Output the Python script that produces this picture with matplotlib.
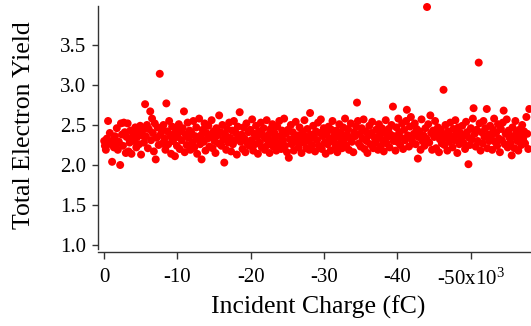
import matplotlib
matplotlib.use("Agg")
import matplotlib.pyplot as plt

# Incident charge (in units of 10^3 fC) and total electron yield
charge_k = [
    -0.02,-0.12,-0.25,-0.38,-0.55,-0.66,-0.79,-0.93,-1.10,-1.22,
    -1.35,-1.49,-1.61,-1.74,-1.88,-2.02,-2.20,-2.31,-2.45,-2.58,
    -2.70,-2.83,-2.97,-3.08,-3.22,-3.35,-3.49,-3.60,-3.74,-3.88,
    -3.99,-4.13,-4.26,-4.40,-4.52,-4.66,-4.79,-4.93,-5.05,-5.18,
    -5.31,-5.44,-5.60,-5.71,-5.85,-5.98,-6.10,-6.30,-6.41,-6.55,
    -6.66,-6.79,-6.92,-7.05,-7.18,-7.30,-7.45,-7.60,-7.72,-7.85,
    -7.98,-8.10,-8.24,-8.37,-8.50,-8.63,-8.76,-8.88,-9.02,-9.15,
    -9.28,-9.40,-9.55,-9.67,-9.80,-9.94,-10.06,-10.20,-10.33,-10.45,
    -10.60,-10.72,-10.90,-11.00,-11.13,-11.27,-11.40,-11.52,-11.66,-11.79,
    -11.92,-12.05,-12.18,-12.31,-12.44,-12.58,-12.70,-12.84,-12.97,-13.10,
    -13.22,-13.30,-13.45,-13.58,-13.71,-13.84,-13.97,-14.10,-14.23,-14.38,
    -14.55,-14.67,-14.80,-14.94,-15.06,-15.20,-15.33,-15.46,-15.60,-15.70,
    -15.88,-16.01,-16.14,-16.27,-16.40,-16.53,-16.66,-16.80,-16.92,-17.06,
    -17.19,-17.32,-17.46,-17.58,-17.71,-17.85,-17.98,-18.11,-18.24,-18.37,
    -18.50,-18.63,-18.76,-18.89,-19.02,-19.15,-19.28,-19.42,-19.55,-19.68,
    -19.81,-19.94,-20.08,-20.20,-20.34,-20.47,-20.60,-20.73,-20.86,-20.99,
    -21.13,-21.26,-21.39,-21.52,-21.65,-21.78,-21.92,-22.05,-22.18,-22.31,
    -22.45,-22.58,-22.71,-22.84,-22.97,-23.10,-23.24,-23.37,-23.50,-23.63,
    -23.77,-23.90,-24.03,-24.16,-24.29,-24.42,-24.56,-24.69,-24.82,-24.95,
    -25.09,-25.20,-25.35,-25.48,-25.61,-25.74,-25.88,-26.01,-26.14,-26.27,
    -26.41,-26.54,-26.67,-26.80,-26.93,-27.06,-27.20,-27.33,-27.46,-27.59,
    -27.73,-27.86,-27.99,-28.10,-28.25,-28.38,-28.52,-28.65,-28.78,-28.91,
    -29.05,-29.18,-29.31,-29.44,-29.57,-29.70,-29.84,-29.97,-30.10,-30.23,
    -30.37,-30.50,-30.63,-30.76,-30.89,-31.02,-31.16,-31.29,-31.42,-31.55,
    -31.69,-31.82,-31.95,-32.08,-32.21,-32.34,-32.48,-32.61,-32.74,-32.87,
    -33.01,-33.14,-33.27,-33.40,-33.53,-33.66,-33.80,-34.00,-34.12,-34.25,
    -34.38,-34.50,-34.62,-34.75,-34.88,-35.01,-35.14,-35.27,-35.40,-35.53,
    -35.66,-35.79,-35.92,-36.05,-36.18,-36.31,-36.44,-36.57,-36.70,-36.83,
    -36.97,-37.10,-37.23,-37.36,-37.49,-37.62,-37.76,-37.89,-38.02,-38.15,
    -38.29,-38.42,-38.55,-38.68,-38.81,-38.94,-39.08,-39.21,-39.40,-39.50,
    -39.62,-39.75,-39.88,-40.01,-40.14,-40.27,-40.40,-40.53,-40.66,-40.79,
    -40.93,-41.06,-41.19,-41.30,-41.45,-41.58,-41.72,-41.85,-41.98,-42.11,
    -42.25,-42.38,-42.51,-42.64,-42.80,-42.90,-43.04,-43.17,-43.30,-43.43,
    -43.57,-43.70,-43.83,-43.96,-44.05,-44.22,-44.35,-44.50,-44.61,-44.74,
    -44.89,-45.02,-45.15,-45.28,-45.41,-45.54,-45.68,-45.81,-45.94,-46.07,
    -46.18,-46.30,-46.43,-46.56,-46.69,-46.82,-46.96,-47.09,-47.22,-47.35,
    -47.53,-47.66,-47.79,-47.92,-48.05,-48.18,-48.32,-48.45,-48.58,-48.71,
    -48.85,-48.98,-49.11,-49.24,-49.37,-49.50,-49.70,-49.77,-49.90,-50.03,
    -50.17,-50.30,-50.40,-50.56,-50.69,-50.82,-50.96,-51.10,-51.22,-51.35,
    -51.49,-51.62,-51.75,-51.88,-52.01,-52.20,-52.27,-52.40,-52.53,-52.66,
    -52.81,-52.94,-53.07,-53.20,-53.33,-53.46,-53.60,-53.73,-53.86,-53.99,
    -54.13,-54.26,-54.39,-54.50,-54.65,-54.78,-54.92,-55.05,-55.18,-55.31,
    -55.45,-55.60,-55.71,-55.84,-55.97,-56.10,-56.24,-56.37,-56.50,-56.63,
    -56.77,-56.90,-57.03,-57.16,-57.29,-57.42,-57.60,-57.72,-57.86,-58.00,
]

electron_yield = [
    2.30,2.24,2.19,2.33,2.55,2.28,2.40,2.26,2.04,2.31,
    2.22,2.36,2.27,2.46,2.19,2.29,2.00,2.52,2.38,2.24,
    2.53,2.41,2.15,2.35,2.52,2.17,2.28,2.43,2.14,2.33,
    2.39,2.30,2.47,2.22,2.35,2.41,2.26,2.49,2.13,2.37,
    2.44,2.28,2.76,2.36,2.50,2.21,2.45,2.67,2.31,2.58,
    2.40,2.17,2.52,2.07,2.34,2.47,2.25,3.14,2.38,2.44,
    2.27,2.50,2.33,2.19,2.77,2.42,2.26,2.55,2.36,2.14,
    2.48,2.30,2.39,2.11,2.45,2.24,2.35,2.51,2.20,2.42,
    2.31,2.46,2.67,2.16,2.38,2.25,2.53,2.34,2.43,2.19,
    2.40,2.28,2.55,2.22,2.36,2.47,2.14,2.32,2.58,2.26,
    2.37,2.07,2.44,2.29,2.52,2.18,2.40,2.33,2.49,2.23,
    2.35,2.56,2.21,2.42,2.30,2.15,2.46,2.37,2.27,2.62,
    2.41,2.24,2.50,2.32,2.03,2.38,2.19,2.45,2.28,2.53,
    2.34,2.17,2.43,2.26,2.55,2.31,2.40,2.13,2.48,2.36,
    2.66,2.29,2.38,2.20,2.47,2.33,2.16,2.52,2.27,2.41,
    2.24,2.44,2.31,2.57,2.18,2.39,2.26,2.49,2.35,2.14,
    2.42,2.28,2.53,2.22,2.37,2.46,2.19,2.33,2.56,2.25,
    2.38,2.15,2.45,2.30,2.51,2.23,2.40,2.34,2.18,2.48,
    2.27,2.55,2.36,2.20,2.43,2.31,2.58,2.24,2.39,2.16,
    2.44,2.09,2.32,2.50,2.26,2.41,2.18,2.35,2.54,2.29,
    2.37,2.22,2.47,2.33,2.15,2.42,2.28,2.56,2.36,2.21,
    2.45,2.30,2.19,2.65,2.38,2.25,2.49,2.34,2.17,2.42,
    2.31,2.53,2.24,2.40,2.57,2.20,2.36,2.46,2.28,2.14,
    2.39,2.26,2.48,2.33,2.18,2.44,2.55,2.29,2.37,2.22,
    2.43,2.16,2.35,2.51,2.27,2.40,2.21,2.47,2.32,2.58,
    2.25,2.38,2.45,2.19,2.34,2.52,2.29,2.16,2.41,2.36,
    2.48,2.78,2.55,2.27,2.39,2.23,2.46,2.33,2.57,2.20,
    2.42,2.30,2.15,2.37,2.49,2.26,2.40,2.54,2.21,2.35,
    2.28,2.44,2.33,2.19,2.51,2.38,2.24,2.46,2.31,2.17,
    2.40,2.56,2.27,2.35,2.45,2.22,2.38,2.50,2.73,2.30,
    2.36,2.18,2.47,2.29,2.58,2.41,2.25,2.34,2.52,2.20,
    2.44,2.31,2.55,2.69,2.37,2.23,2.48,2.60,2.32,2.27,
    2.39,2.52,2.26,2.45,2.08,2.35,2.42,2.19,2.57,2.30,
    2.37,2.24,2.46,2.33,3.975,2.51,2.28,2.62,2.40,2.19,
    2.43,2.35,2.55,2.21,2.38,2.47,2.16,2.32,2.44,2.27,
    2.39,2.94,2.25,2.50,2.34,2.18,2.42,2.29,2.53,2.36,
    2.22,2.45,2.31,2.56,2.38,2.15,2.47,2.26,2.40,2.33,
    2.49,2.28,2.37,2.20,2.54,2.41,2.01,2.34,2.25,2.46,
    2.32,2.58,2.71,2.39,2.23,2.44,2.30,3.28,2.52,2.18,
    2.41,2.27,2.55,2.35,2.46,2.70,2.21,2.38,2.30,2.49,
    2.36,2.19,2.44,2.58,2.29,2.40,2.24,2.51,2.33,2.16,
    2.45,2.31,2.53,2.68,2.26,2.39,2.57,2.22,2.43,2.34,
    2.28,2.12,2.47,2.36,2.21,2.55,2.40,2.30,2.18,2.44,
    2.37,2.25,2.50,2.33,2.42,2.27,2.60,2.39,2.20,2.70,
]

x_ticks = [0, -10, -20, -30, -40, -50]
x_tick_labels = ["0", "-10", "-20", "-30", "-40", "-50x10$^{3}$"]
y_ticks = [1.0, 1.5, 2.0, 2.5, 3.0, 3.5]
y_tick_labels = ["1.0", "1.5", "2.0", "2.5", "3.0", "3.5"]

plt.rcParams["font.family"] = ["Liberation Serif", "DejaVu Serif"]
plt.rcParams["mathtext.fontset"] = "custom"
plt.rcParams["mathtext.rm"] = "Liberation Serif"
plt.rcParams["mathtext.it"] = "Liberation Serif:italic"

fig = plt.figure(figsize=(5.31, 3.26), dpi=100)
ax = fig.add_axes([0.1846, 0.2362, 0.8154, 0.7454])

ax.scatter(charge_k, electron_yield, s=33, c="#ff0000", edgecolors="none",
           clip_on=False, zorder=3)

ax.set_xlim(0.82, -58.23)
ax.set_ylim(0.95, 3.9875)

for side in ("top", "right"):
    ax.spines[side].set_visible(False)
for side in ("left", "bottom"):
    ax.spines[side].set_color("#333333")
    ax.spines[side].set_linewidth(1.0)
ax.spines["bottom"].set_position(("outward", 2))

ax.set_xticks(x_ticks)
ax.set_xticklabels(x_tick_labels)
ax.set_yticks(y_ticks)
ax.set_yticklabels(y_tick_labels)
ax.tick_params(axis="x", direction="out", length=5, width=1.0, color="#333333",
               labelsize=15, pad=7)
ax.tick_params(axis="y", direction="out", length=4.5, width=1.0, color="#333333",
               labelsize=15, pad=4)

ax.set_xlabel("Incident Charge (fC)", fontsize=18.5)
ax.set_ylabel("Total Electron Yield", fontsize=18.5)
ax.xaxis.set_label_coords(0.509, -0.19)
ax.yaxis.set_label_coords(-0.1455, 0.51)

fig.savefig("out.png", dpi=100)
